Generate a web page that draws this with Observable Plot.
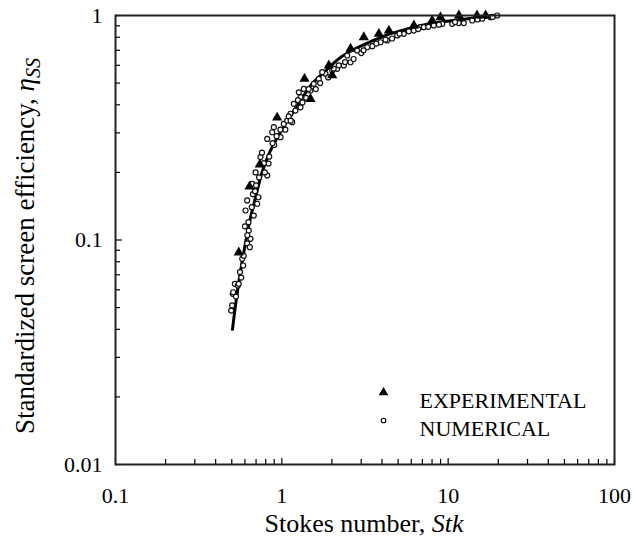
<!DOCTYPE html>
<html><head><meta charset="utf-8">
<script src="https://cdn.jsdelivr.net/npm/d3@7"></script>
<script src="https://cdn.jsdelivr.net/npm/@observablehq/plot@0.6"></script>
<style>body{margin:0;background:#fff} svg{font-family:"Liberation Serif",serif}</style>
</head><body><div id="chart"></div><script>
// Fitted curve
const curveStk = [0.505, 0.53, 0.56, 0.6, 0.65, 0.7, 0.76, 0.85, 0.95, 1.08, 1.25, 1.5, 1.8, 2.25, 2.8, 3.5, 4.5, 5.5, 7, 9, 12, 16, 20];
const curveEta = [0.040, 0.053, 0.070, 0.094, 0.127, 0.158, 0.200, 0.248, 0.29, 0.34, 0.40, 0.49, 0.56, 0.65, 0.715, 0.77, 0.83, 0.865, 0.905, 0.935, 0.96, 0.98, 0.99];
// Experimental (triangles)
const expStk = [0.551, 0.639, 0.737, 0.937, 1.369, 1.487, 1.916, 2.008, 2.588, 3.11, 3.83, 4.40, 6.22, 8.02, 8.99, 11.6, 14.9, 16.8];
const expEta = [0.088, 0.173, 0.217, 0.351, 0.522, 0.425, 0.599, 0.541, 0.711, 0.800, 0.829, 0.857, 0.903, 0.95, 0.983, 1.0, 1.0, 1.0];
// Numerical (open circles)
const numStk = [0.496,0.503,0.507,0.510,0.522,0.544,0.551,0.578,0.586,0.619,0.642,0.648,0.633,0.678,0.605,0.619,0.724,0.711,0.664,0.695,0.832,0.817,0.744,0.817,0.875,0.982,0.895,1.028,1.127,1.077,1.154,1.180,1.208,1.295,1.295,1.265,1.356,1.487,1.557,1.669,1.830,1.749,2.008,2.152,2.359,2.587,2.472,2.839,3.261,3.920,4.30,4.94,5.41,6.22,6.82,6.22,7.14,8.20,9.21,10.57,11.59,12.42,13.95,16.02,17.97,19.72,1.05,1.10,1.40,1.60,1.90,2.20,2.70,3.00,3.50,4.60,5.80,7.60,0.90,0.78,0.76,0.70,0.67,0.60,0.62,0.56,
  0.53,0.57,0.59,0.63,0.66,0.69,0.73,0.79,0.84,0.88,0.93,0.98,1.13,1.25,1.33,1.45,1.7,2.05,2.4,3.1,3.7,4.2,5.1,6.6,8.8,11,15,18.5];
const numEta = [0.0485,0.0511,0.0576,0.0585,0.0638,0.0627,0.0638,0.0825,0.0770,0.0965,0.0929,0.1012,0.1102,0.1285,0.1353,0.150,0.155,0.145,0.178,0.200,0.219,0.194,0.234,0.282,0.302,0.287,0.318,0.329,0.365,0.340,0.335,0.404,0.377,0.390,0.433,0.455,0.471,0.463,0.496,0.522,0.550,0.559,0.569,0.579,0.599,0.619,0.663,0.698,0.722,0.760,0.774,0.815,0.829,0.873,0.887,0.857,0.887,0.903,0.918,0.918,0.925,0.925,0.950,0.967,0.983,1.0,0.31,0.355,0.43,0.47,0.53,0.60,0.64,0.68,0.73,0.79,0.85,0.89,0.265,0.22,0.245,0.175,0.16,0.115,0.105,0.072,
  0.056,0.068,0.085,0.12,0.14,0.165,0.19,0.20,0.235,0.27,0.29,0.31,0.34,0.42,0.41,0.47,0.50,0.58,0.62,0.70,0.75,0.78,0.83,0.87,0.91,0.935,0.96,0.985];
// Axes
const xTicks = [0.1, 1, 10, 100];
const xTickLabels = ["0.1", "1", "10", "100"];
const xMinor = [0.2,0.3,0.4,0.5,0.6,0.7,0.8,0.9,2,3,4,5,6,7,8,9,20,30,40,50,60,70,80,90];
const yTicks = [0.01, 0.1, 1];
const yTickLabels = ["0.01", "0.1", "1"];
const yMinor = [0.02,0.03,0.04,0.05,0.06,0.07,0.08,0.09,0.2,0.3,0.4,0.5,0.6,0.7,0.8,0.9];
const legendLabels = ["EXPERIMENTAL", "NUMERICAL"];
const xTitle = ["Stokes number, ", "Stk"];
const yTitle = ["Standardized screen efficiency, ", "\u03B7", "SS"];

const curve = curveStk.map((x, i) => ({x, y: curveEta[i]}));
const exp = expStk.map((x, i) => ({x, y: expEta[i]}));
const num = numStk.map((x, i) => ({x, y: numEta[i]}));

const W = 633, H = 546, ML = 115, MR = 19, MT = 15, MB = 82;
const PW = W - ML - MR, PH = H - MT - MB;

const svg = Plot.plot({
  width: W, height: H,
  marginLeft: ML, marginRight: MR, marginTop: MT, marginBottom: MB,
  style: {fontFamily: "Liberation Serif", fontSize: "22px", color: "#000", background: "#fff"},
  x: {type: "log", domain: [0.1, 100]},
  y: {type: "log", domain: [0.01, 1]},
  marks: [
    Plot.axisX({ticks: xTicks, tickSize: 0, tickPadding: 23, tickFormat: d => xTickLabels[xTicks.indexOf(d)], fontSize: 22, label: null}),
    Plot.axisY({ticks: yTicks, tickSize: 0, tickPadding: 13, tickFormat: d => yTickLabels[yTicks.indexOf(d)], fontSize: 22, label: null}),
    Plot.tickX(xTicks, {x: d => d, insetTop: PH - 6, stroke: "#000", strokeWidth: 1.2}),
    Plot.tickX(xMinor, {x: d => d, insetTop: PH - 5, stroke: "#000", strokeWidth: 1.2}),
    Plot.tickY(yTicks, {y: d => d, insetRight: PW - 7, stroke: "#000", strokeWidth: 1.2}),
    Plot.tickY(yMinor, {y: d => d, insetRight: PW - 5, stroke: "#000", strokeWidth: 1.2}),
    Plot.line(curve, {x: "x", y: "y", stroke: "#000", strokeWidth: 3, curve: "catmull-rom"}),
    Plot.dot(num, {x: "x", y: "y", r: 2.5, fill: "white", stroke: "#111", strokeWidth: 1.2}),
    Plot.dot(exp, {x: "x", y: "y", symbol: "triangle", r: 3.8, fill: "#000", stroke: "none"}),
    Plot.dot([legendLabels[0]], {frameAnchor: "top-left", dx: 268, dy: 377, symbol: "triangle", r: 3.6, fill: "#000"}),
    Plot.dot([legendLabels[1]], {frameAnchor: "top-left", dx: 268, dy: 405, r: 2.3, fill: "white", stroke: "#000", strokeWidth: 1.1}),
    Plot.text([legendLabels[0]], {frameAnchor: "top-left", dx: 304, dy: 377, textAnchor: "start", fontSize: 22, fill: "#000"}),
    Plot.text([legendLabels[1]], {frameAnchor: "top-left", dx: 304, dy: 405, textAnchor: "start", fontSize: 22, fill: "#000"}),
    Plot.frame({stroke: "#222", strokeWidth: 2})
  ]
});

const s = d3.select(svg);
const xt = s.append("text").attr("x", 364).attr("y", 532).attr("text-anchor", "middle")
  .attr("font-size", 26).attr("fill", "#000").attr("font-family", "Liberation Serif");
xt.append("tspan").text(xTitle[0]);
xt.append("tspan").attr("font-style", "italic").text(xTitle[1]);
const yt = s.append("text").attr("transform", "translate(34,246) rotate(-90)").attr("text-anchor", "middle")
  .attr("font-size", 27).attr("fill", "#000").attr("font-family", "Liberation Serif");
yt.append("tspan").text(yTitle[0]);
yt.append("tspan").attr("font-style", "italic").text(yTitle[1]);
yt.append("tspan").attr("font-style", "italic").attr("font-size", 20).attr("dy", 6).text(yTitle[2]);
document.getElementById("chart").appendChild(svg);
</script></body></html>
